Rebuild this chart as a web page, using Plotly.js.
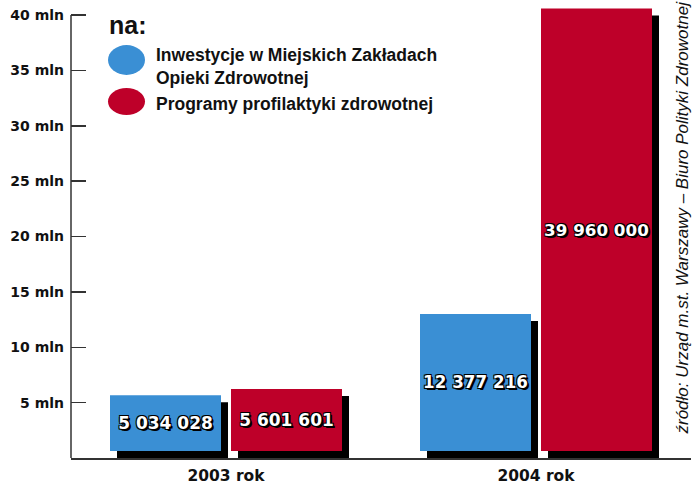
<!DOCTYPE html>
<html><head><meta charset="utf-8">
<script src="https://cdn.plot.ly/plotly-3.0.1.min.js"></script>
<style>html,body{margin:0;padding:0;background:#fff}</style>
</head><body>
<div id="chart" style="width:694px;height:486px"></div>
<script>
// ---- data ----
const categories = ['2003 rok', '2004 rok'];
const inwestycje = [5034028, 12377216];
const programy = [5601601, 39960000];
const seriesNames = ['Inwestycje w Miejskich Zakładach<br>Opieki Zdrowotnej', 'Programy profilaktyki zdrowotnej'];
const tickVals = [0, 5e6, 10e6, 15e6, 20e6, 25e6, 30e6, 35e6, 40e6];
const tickText = ['', '5 mln', '10 mln', '15 mln', '20 mln', '25 mln', '30 mln', '35 mln', '40 mln'];
const headText = 'na:';
const sourceText = 'źródło: Urząd m.st. Warszawy – Biuro Polityki Zdrowotnej';

// ---- styling / geometry ----
const W = 694, H = 486;
const M = {l: 71, r: 3, t: 6, b: 28};
const PW = W - M.l - M.r, PH = H - M.t - M.b;
const AXMAX = 40e6;                    // top of the drawn axis (at y=15px)
const pxPerUnit = 443 / AXMAX;
const YTOP = PH / pxPerUnit;           // range extends above the axis top so the tallest bar is not clipped
const unitPx = PW / 2;
const barW = 111 / unitPx;
const gap = 10 / unitPx;
const shadowDX = 7 / unitPx;
const shadowDY = 7 / pxPerUnit;
const BLUE = '#3a8fd4', RED = '#be0029';
const fmt = v => String(v).replace(/\B(?=(\d{3})+(?!\d))/g, ' ');
const px = x => (x - M.l) / PW;
const py = y => (H - M.b - y) / PH;

const valueFont = {family: 'DejaVu Sans', weight: 'bold', size: 17, color: '#fff',
  shadow: '-1px -1px 0 #000, 1px -1px 0 #000, -1px 1px 0 #000, 1px 1px 0 #000, 2px 2px 0 #000'};

const offBlue = -(barW + gap / 2), offRed = gap / 2;

function shadow(vals, off) {
  return {type: 'bar', x: categories, y: vals, width: barW, offset: off + shadowDX,
    marker: {color: '#000', line: {width: 0}}, hoverinfo: 'skip', showlegend: false};
}
function colored(vals, off, color, name) {
  return {type: 'bar', name: name, x: categories, y: vals, base: shadowDY, width: barW, offset: off,
    marker: {color: color, line: {width: 0}}, text: vals.map(fmt), textposition: 'inside',
    insidetextanchor: 'middle', textangle: 0, textfont: valueFont,
    hoverinfo: 'skip', showlegend: false};
}

const traces = [
  shadow(inwestycje, offBlue),
  shadow(programy, offRed),
  colored(inwestycje, offBlue, BLUE, seriesNames[0]),
  colored(programy, offRed, RED, seriesNames[1])
];

const legendFont = {family: 'Liberation Sans', weight: 'bold', size: 17.5, color: '#111'};

const layout = {
  width: W, height: H, margin: M,
  paper_bgcolor: '#fff', plot_bgcolor: '#fff',
  barmode: 'overlay', showlegend: false,
  xaxis: {type: 'category', categoryarray: categories, range: [-0.5, 1.5], showline: true,
    linecolor: '#333', linewidth: 1.5, ticks: '', showgrid: false, zeroline: false,
    ticklabelstandoff: 3,
    tickfont: {family: 'DejaVu Sans', weight: 'bold', size: 15.5, color: '#111'}, fixedrange: true},
  yaxis: {range: [0, YTOP], tickmode: 'array', tickvals: tickVals, ticktext: tickText,
    ticks: 'inside', ticklen: 15, tickwidth: 1.5, tickcolor: '#333', showline: false,
    showgrid: false, zeroline: false, ticklabelstandoff: 6,
    tickfont: {family: 'DejaVu Sans', weight: 'bold', size: 14, color: '#111'}, fixedrange: true},
  shapes: [
    {type: 'line', xref: 'paper', yref: 'y', x0: 0, x1: 0, y0: 0, y1: AXMAX,
      line: {color: '#333', width: 1.5}},
    {type: 'circle', xref: 'paper', yref: 'paper', x0: px(108), x1: px(145), y0: py(75), y1: py(45),
      fillcolor: BLUE, line: {width: 0}},
    {type: 'circle', xref: 'paper', yref: 'paper', x0: px(108), x1: px(145), y0: py(115), y1: py(88),
      fillcolor: RED, line: {width: 0}}
  ],
  annotations: [
    {xref: 'paper', yref: 'paper', x: px(107), y: py(25), xanchor: 'left', yanchor: 'middle',
      text: headText, showarrow: false, font: {family: 'Liberation Sans', weight: 'bold', size: 25, color: '#111'}},
    {xref: 'paper', yref: 'paper', x: px(154), y: py(66), xanchor: 'left', yanchor: 'middle', align: 'left',
      text: seriesNames[0], showarrow: false, font: legendFont},
    {xref: 'paper', yref: 'paper', x: px(154), y: py(104), xanchor: 'left', yanchor: 'middle', align: 'left',
      text: seriesNames[1], showarrow: false, font: legendFont},
    {xref: 'paper', yref: 'paper', x: px(682.5), y: py(218), xanchor: 'center', yanchor: 'middle',
      textangle: -90, text: sourceText, showarrow: false,
      font: {family: 'Liberation Sans', style: 'italic', size: 17, color: '#111'}}
  ]
};

Plotly.newPlot('chart', traces, layout, {displayModeBar: false, staticPlot: true});
</script>
</body></html>
